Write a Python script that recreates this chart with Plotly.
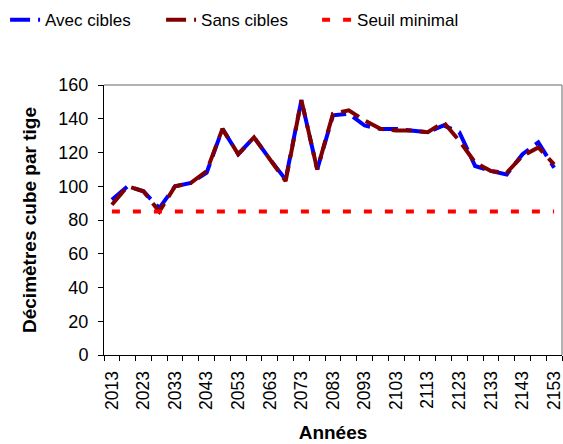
import plotly.graph_objects as go

# Years every 5 years, 2013 -> 2153
annees = list(range(2013, 2154, 5))

avec_cibles = [92, 100, 97, 87, 100, 102, 108, 134, 119, 129, 116, 104, 151, 110,
               142, 143, 136, 134, 134, 133, 132, 136, 132, 112, 109, 107, 119, 126, 111]
sans_cibles = [89, 100, 97, 85, 100, 102, 109, 134, 119, 129, 116, 103, 151, 110,
               143, 145, 139, 134, 133, 133, 132, 138, 127, 114, 109, 108, 118, 123, 113]
seuil_minimal = [85] * len(annees)

tick_annees = list(range(2013, 2154, 10))

font = "Liberation Sans, Arial, sans-serif"

fig = go.Figure()
fig.add_trace(go.Scatter(
    x=annees, y=avec_cibles, name="Avec cibles", mode="lines",
    line=dict(color="#0000FF", width=4, dash="20px,8px"),
))
fig.add_trace(go.Scatter(
    x=annees, y=sans_cibles, name="Sans cibles", mode="lines",
    line=dict(color="#800000", width=4, dash="20px,8px"),
))
fig.add_trace(go.Scatter(
    x=annees, y=seuil_minimal, name="Seuil minimal", mode="lines",
    line=dict(color="#FF0000", width=4, dash="8px,13px"),
))

fig.update_layout(
    width=563, height=444,
    margin=dict(l=104, r=1, t=85, b=89, autoexpand=False),
    paper_bgcolor="white", plot_bgcolor="white",
    font=dict(family=font, size=18, color="black"),
    showlegend=True,
    legend=dict(
        orientation="h", x=-0.216, xanchor="left", y=1.24, yanchor="middle",
        font=dict(size=17), entrywidth=111, tracegroupgap=0,
    ),
    xaxis=dict(
        range=[2010.5, 2155.5],
        tickmode="array", tickvals=tick_annees,
        ticktext=[str(a) for a in tick_annees],
        tickangle=-90, ticks="", ticklabelstandoff=8,
        ticklabeloverflow="allow",
        tickfont=dict(size=17.5),
        showgrid=False, zeroline=False,
        showline=True, linecolor="black", linewidth=1,
        minor=dict(ticks="outside", tick0=2010.5, dtick=5, ticklen=5,
                   tickcolor="black", showgrid=False),
        title=dict(text="<b>Années</b>", font=dict(size=19), standoff=16),
    ),
    yaxis=dict(
        range=[0, 160], dtick=20,
        ticks="outside", ticklen=5, tickcolor="black", ticklabelstandoff=6,
        tickfont=dict(size=18),
        showgrid=False, zeroline=False,
        showline=True, linecolor="black", linewidth=1,
        title=dict(text="<b>Décimètres cube par tige</b>", font=dict(size=19), standoff=16),
    ),
)

# gray frame of the plot area (top and right)
fig.add_shape(type="line", xref="paper", yref="paper", x0=0, x1=1, y0=1, y1=1,
              line=dict(color="#999999", width=1.5))
fig.add_shape(type="line", xref="paper", yref="paper", x0=1, x1=1, y0=0, y1=1,
              line=dict(color="#999999", width=1.5))

# drop the default 8px page margin so the figure fills the window
fig.write_html("out.html", config={"displayModeBar": False},
               post_script="document.body.style.margin='0';document.body.style.overflow='hidden';")
